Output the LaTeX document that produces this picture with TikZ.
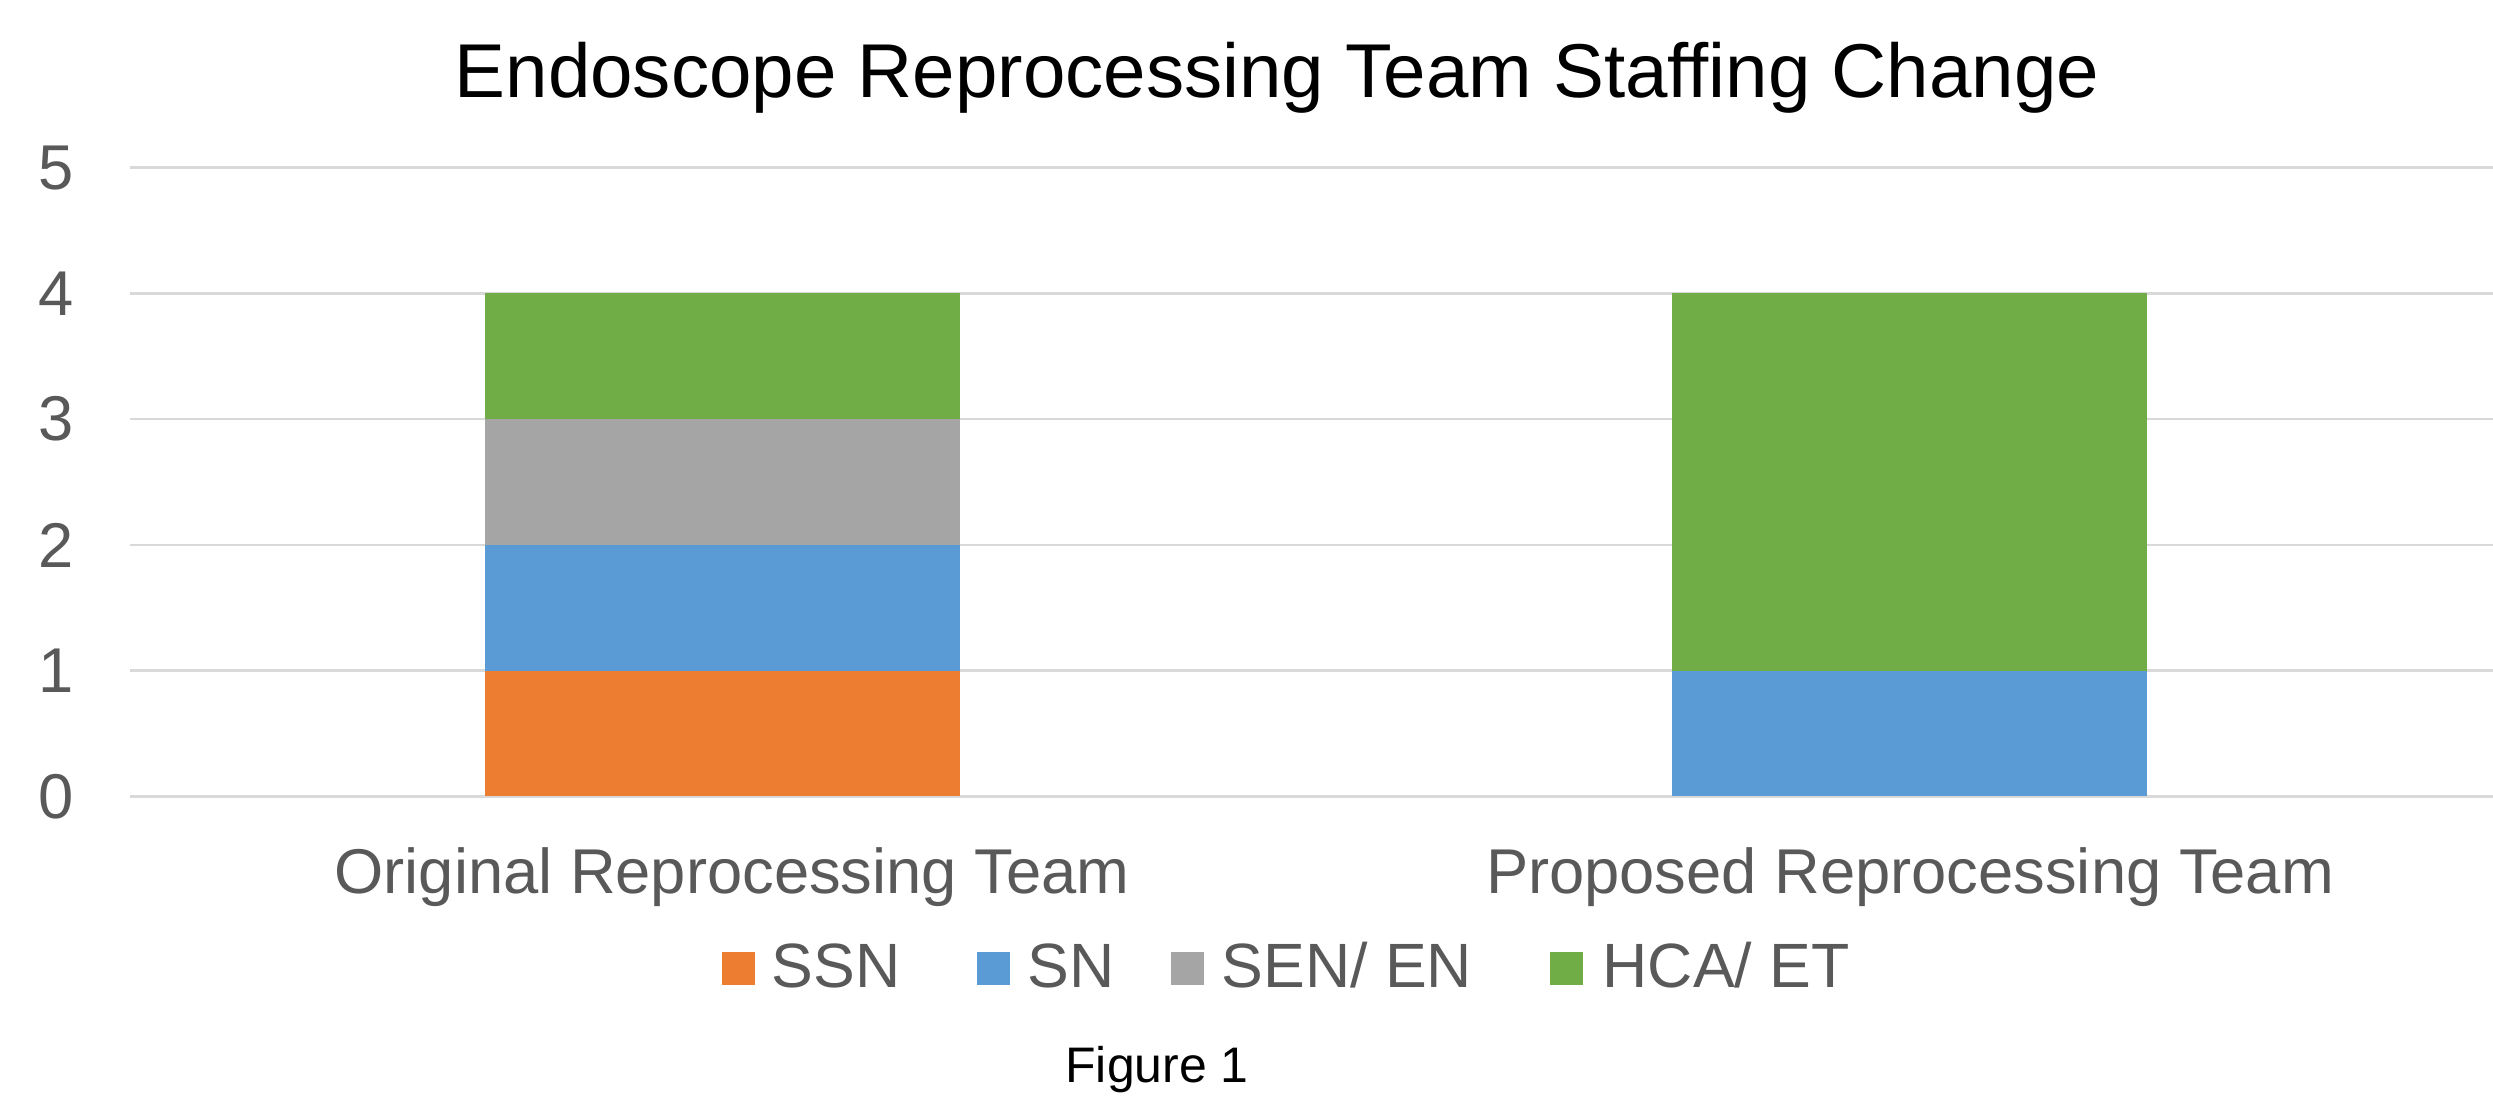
\documentclass[tikz,border=0pt]{standalone}
\usepackage{fontspec}
\setmainfont{Liberation Sans}
\definecolor{ssncol}{HTML}{ED7D31}
\definecolor{sncol}{HTML}{5B9BD5}
\definecolor{sencol}{HTML}{A5A5A5}
\definecolor{hcacol}{HTML}{70AD47}
\definecolor{gridcol}{HTML}{D9D9D9}
\definecolor{labelcol}{HTML}{595959}

\begin{document}
\begin{tikzpicture}[x=0.01cm,y=0.01cm,
  grid line/.style={draw=gridcol,line width=0.75pt},
  tick label/.style={text=labelcol,inner sep=0pt,anchor=east,font=\fontsize{18}{20}\selectfont},
  cat label/.style={text=labelcol,inner sep=0pt,anchor=base,font=\fontsize{18}{20}\selectfont},
  key box/.style={minimum size=0.33cm,inner sep=0pt},
  key text/.style={text=labelcol,inner sep=0pt,anchor=base west,font=\fontsize{17.8}{20}\selectfont}]

  \useasboundingbox[fill=white] (0,0) rectangle (2493,1097);

  % title
  \node[inner sep=0pt,anchor=base,font=\fontsize{21.7}{24}\selectfont] (title) at (1277,999)
    {Endoscope Reprocessing Team Staffing Change};

  % value axis: 1 unit = 125.7px, zero at 300.5
  \begin{scope}[shift={(0,300.5)},y=1.257cm]
    \foreach \v in {0,...,5} {
      \draw[grid line] (130,\v) -- (2493,\v);
      \node[tick label] (tick\v) at (74,\v) {\v};
    }

    % original team
    \fill[ssncol] (485,0) rectangle (960,1);
    \fill[sncol]  (485,1) rectangle (960,2);
    \fill[sencol] (485,2) rectangle (960,3);
    \fill[hcacol] (485,3) rectangle (960,4);

    % proposed team
    \fill[sncol]  (1672,0) rectangle (2147,1);
    \fill[hcacol] (1672,1) rectangle (2147,4);
  \end{scope}

  \node[cat label] (orig) at (732,203) {Original Reprocessing Team};
  \node[cat label] (prop) at (1910,203) {Proposed Reprocessing Team};

  % legend
  \node[key box,fill=ssncol] (kssn) at (738.5,128.5) {};
  \node[key text] (tssn) at (771,109) {SSN};
  \node[key box,fill=sncol] (ksn) at (993,128.5) {};
  \node[key text] (tsn) at (1027,109) {SN};
  \node[key box,fill=sencol] (ksen) at (1187.5,128.5) {};
  \node[key text] (tsen) at (1221,109) {SEN/ EN};
  \node[key box,fill=hcacol] (khca) at (1566.5,128.5) {};
  \node[key text] (thca) at (1602,109) {HCA/ ET};

  \node[inner sep=0pt,anchor=base,font=\fontsize{14.2}{16}\selectfont] (fig) at (1157,14) {Figure 1};

\end{tikzpicture}
\end{document}
